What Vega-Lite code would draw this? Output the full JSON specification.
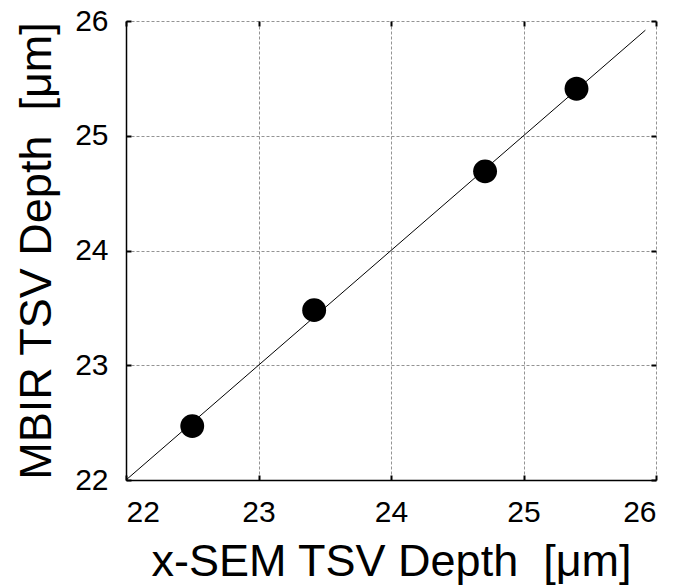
{
  "$schema": "https://vega.github.io/schema/vega-lite/v6.json",
  "autosize": "none",
  "width": 530,
  "height": 459,
  "padding": {"left": 126, "top": 21, "right": 21, "bottom": 108},
  "background": "white",
  "config": {
    "view": {"stroke": null},
    "font": "Liberation Sans",
    "axis": {
      "labelFont": "Liberation Sans",
      "titleFont": "Liberation Sans",
      "labelFontSize": 30,
      "titleFontSize": 45,
      "titleFontWeight": "normal",
      "labelColor": "black",
      "titleColor": "black",
      "domainColor": "black",
      "domainWidth": 1.5,
      "tickColor": "black",
      "tickWidth": 2,
      "tickSize": -5,
      "gridColor": "#777777",
      "gridDash": [3, 2],
      "gridWidth": 0.8,
      "gridOpacity": 1
    }
  },
  "layer": [
    {
      "data": {"values": [{"x": 22, "y": 22}, {"x": 25.92, "y": 25.92}]},
      "mark": {"type": "line", "color": "black", "strokeWidth": 1},
      "encoding": {
        "x": {"field": "x", "type": "quantitative", "scale": {"domain": [22, 26], "nice": false, "zero": false},
              "axis": {"orient": "bottom", "values": [22, 23, 24, 25, 26], "title": "x-SEM TSV Depth\u00a0 [μm]", "labelPadding": 22, "titleBaseline": "alphabetic", "titleY": 95, "grid": true}},
        "y": {"field": "y", "type": "quantitative", "scale": {"domain": [22, 26], "nice": false, "zero": false},
              "axis": {"orient": "left", "values": [22, 23, 24, 25, 26], "title": "MBIR TSV Depth\u00a0 [μm]", "labelPadding": 23, "titleBaseline": "alphabetic", "titleX": -76, "grid": true}}
      }
    },
    {
      "data": {"values": [
        {"x": 22.5, "y": 22.47},
        {"x": 23.42, "y": 23.48},
        {"x": 24.71, "y": 24.69},
        {"x": 25.4, "y": 25.41}
      ]},
      "mark": {"type": "point", "filled": true, "color": "black", "opacity": 1, "size": 570},
      "encoding": {
        "x": {"field": "x", "type": "quantitative", "scale": {"domain": [22, 26], "nice": false, "zero": false},
              "axis": {"orient": "top", "values": [22, 23, 24, 25, 26], "labels": false, "domain": false, "grid": false, "title": null}},
        "y": {"field": "y", "type": "quantitative", "scale": {"domain": [22, 26], "nice": false, "zero": false},
              "axis": {"orient": "right", "values": [22, 23, 24, 25, 26], "labels": false, "domain": false, "grid": false, "title": null}}
      }
    }
  ],
  "resolve": {"axis": {"x": "independent", "y": "independent"}}
}
